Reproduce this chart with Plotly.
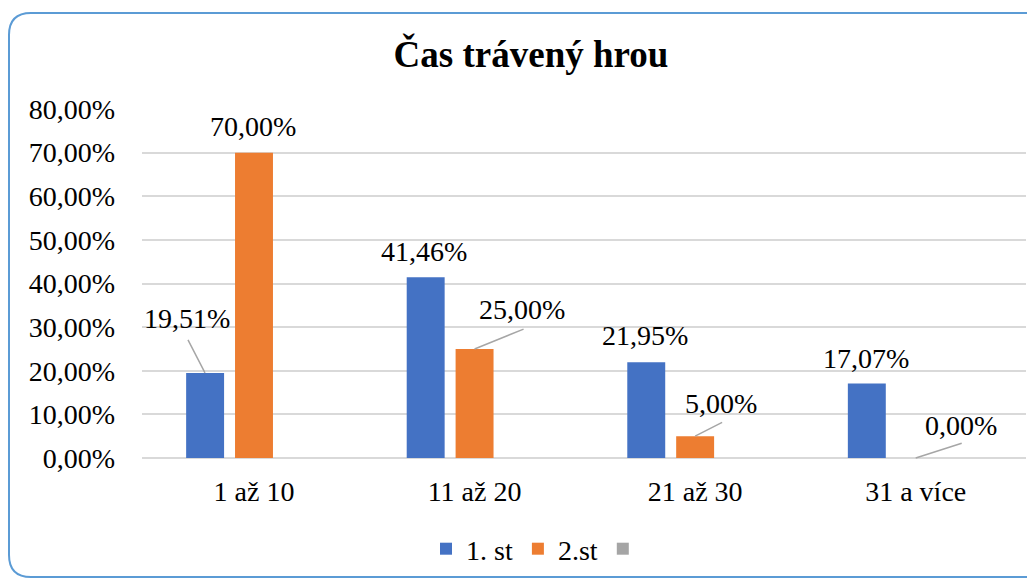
import plotly.graph_objects as go

categories = ["1 až 10", "11 až 20", "21 až 30", "31 a více"]
series_names = ["1. st", "2.st", ""]
st1 = [0.1951, 0.4146, 0.2195, 0.1707]
st2 = [0.70, 0.25, 0.05, 0.0]
st3 = [None, None, None, None]

colors = ["#4472C4", "#ED7D31", "#A5A5A5"]
FONT = "Liberation Serif"

OFF = 8  # page body margin
W, H = 1035 - OFF, 581 - OFF
L, R, T, B = 142 - OFF, 1026 - OFF, 109 - OFF, 458 - OFF  # plot area in figure pixels

fig = go.Figure()
for name, vals, col in zip(series_names, [st1, st2, st3], colors):
    fig.add_trace(go.Bar(x=categories, y=vals, name=name, marker_color=col,
                         marker_line_width=0, showlegend=True))

# data labels: (series, category, text dx, text dy(up), leader start (ax, ay) or None)
label_layout = [
    (0, 0, -18, 54, (-17.5, -34)), (1, 0, -1, 26, None),
    (0, 1, -2, 26, None), (1, 1, 47, 39, (49.5, -20)),
    (0, 2, -1, 27, None), (1, 2, 25.5, 33, (27.5, -14)),
    (0, 3, -1, 25.5, None), (1, 3, 45.5, 33, (46.5, -15)),
]
slot = 49
offsets = [-slot, 0, slot]
all_vals = [st1, st2]
for s, c, dx, dy, leader in label_layout:
    v = all_vals[s][c]
    txt = f"{v*100:.2f}".replace(".", ",") + "%"
    fig.add_annotation(x=categories[c], y=v, xref="x", yref="y", text=txt,
                       showarrow=False, xshift=offsets[s] + dx, yshift=dy,
                       yanchor="middle", font=dict(family=FONT, size=28, color="black"))
    if leader:
        fig.add_annotation(x=categories[c], y=v, xref="x", yref="y", text=" ",
                           showarrow=True, arrowhead=0, arrowwidth=1.5, arrowcolor="#A6A6A6",
                           ax=leader[0], ay=leader[1], xshift=offsets[s], standoff=0,
                           borderpad=0, font=dict(family=FONT, size=1, color="black"))

# rounded outer border (screen pixel -> paper coords)
def px(x):
    return (x - OFF - L) / (R - L)

def py(y):
    return (B - (y - OFF)) / (B - T)

x0, x1, y0, y1, rad = 9, 1060, 13, 577, 22
path = (f"M{px(x0+rad)},{py(y0)} L{px(x1)},{py(y0)} L{px(x1)},{py(y1)} "
        f"L{px(x0+rad)},{py(y1)} Q{px(x0)},{py(y1)} {px(x0)},{py(y1-rad)} "
        f"L{px(x0)},{py(y0+rad)} Q{px(x0)},{py(y0)} {px(x0+rad)},{py(y0)}")
fig.add_shape(type="path", path=path, xref="paper", yref="paper",
              line=dict(color="#5B9BD5", width=2), layer="below")

fig.update_layout(
    width=W, height=H,
    margin=dict(l=L, r=W - R, t=T, b=H - B, autoexpand=False),
    paper_bgcolor="white", plot_bgcolor="white",
    separators=", ",
    barmode="group", bargap=0.335, bargroupgap=0.224,
    title=dict(text="<b>Čas trávený hrou</b>", x=(531 - OFF) / W, xanchor="center",
               y=1 - (54 - OFF) / H, yanchor="middle", yref="container",
               font=dict(family=FONT, size=37, color="black")),
    font=dict(family=FONT, size=28, color="black"),
    legend=dict(orientation="h", x=px(537), xanchor="center", y=py(549),
                yanchor="middle", font=dict(family=FONT, size=28, color="black"),
                bgcolor="rgba(0,0,0,0)"),
    showlegend=True,
)
fig.update_yaxes(range=[0, 0.8], dtick=0.1, tickformat=".2%", showgrid=True,
                 gridcolor="#D9D9D9", gridwidth=1.5, zeroline=True, zerolinecolor="#D9D9D9",
                 zerolinewidth=1.5, showline=False, ticks="", ticklabelstandoff=26,
                 tickfont=dict(family=FONT, size=28, color="black"))
fig.update_xaxes(showgrid=False, showline=False, ticks="", ticklabelstandoff=14,
                 tickfont=dict(family=FONT, size=28, color="black"))

fig.write_html("out.html")
